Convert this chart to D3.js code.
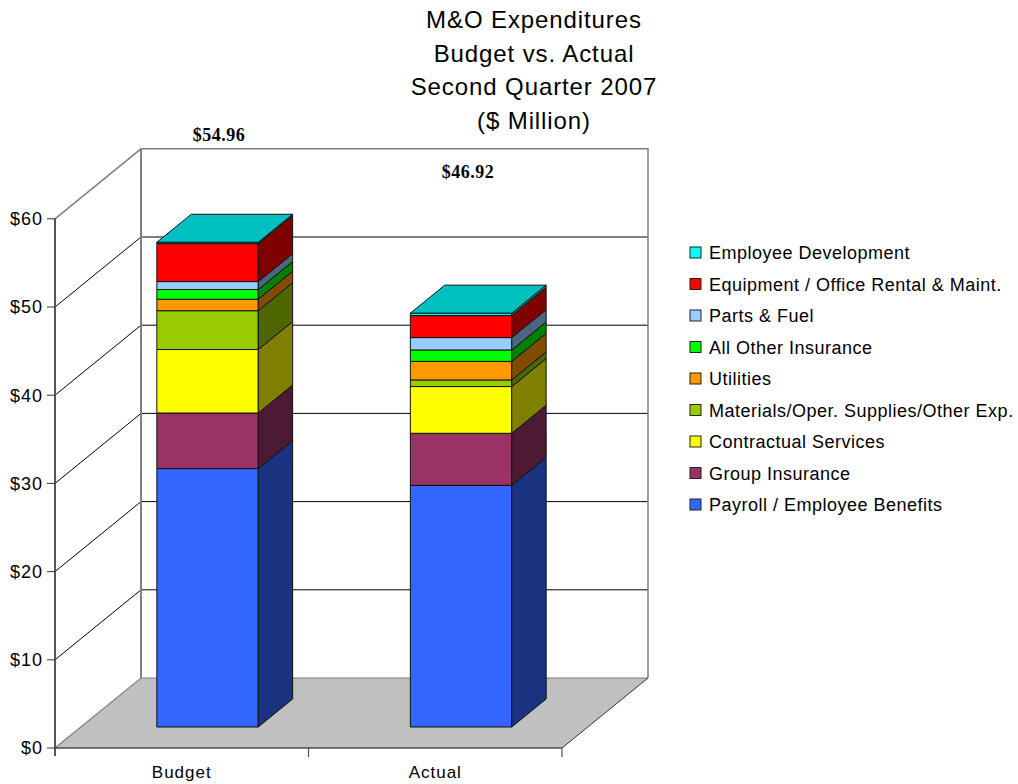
<!DOCTYPE html>
<html>
<head>
<meta charset="utf-8">
<script src="https://cdn.jsdelivr.net/npm/d3@7"></script>
<style>
  html, body { margin: 0; padding: 0; background: #fff; }
  svg { display: block; }
  text { font-family: "Liberation Sans", Arial, sans-serif; fill: #000; }
</style>
</head>
<body>
<svg id="chart" width="1018" height="784"></svg>
<script>
// ---- Data ----
const categories = ["Budget", "Actual"];
const seriesNames = [
  "Payroll / Employee Benefits",
  "Group Insurance",
  "Contractual Services",
  "Materials/Oper. Supplies/Other Exp.",
  "Utilities",
  "All Other Insurance",
  "Parts & Fuel",
  "Equipment / Office Rental & Maint.",
  "Employee Development"
];
const budgetValues = [29.3, 6.3, 7.2, 4.4, 1.3, 1.1, 0.9, 4.3, 0.16];
const actualValues = [27.4, 5.9, 5.3, 0.75, 2.1, 1.3, 1.4, 2.5, 0.27];
const totalLabels = ["$54.96", "$46.92"];
const yTicks = [0, 10, 20, 30, 40, 50, 60];
const yTickLabels = ["$0", "$10", "$20", "$30", "$40", "$50", "$60"];
const titleLines = ["M&O Expenditures", "Budget vs. Actual", "Second Quarter 2007", "($ Million)"];
const seriesColors = ["#3366FF", "#993366", "#FFFF00", "#99CC00", "#FF9900", "#00FF00", "#99CCFF", "#FF0000", "#00FFFF"];

// ---- Layout ----
const svg = d3.select("#chart");
const X0 = 55, X1 = 562;         // front plane extent
const Y0 = 748;                  // front $0
const DX = 86, DY = 70;          // depth offset of back wall
const y = d3.scaleLinear().domain([0, 60]).range([0, 529.2]); // height in px
const x = d3.scaleBand().domain(categories).range([X0, X1]).paddingInner(0.6).paddingOuter(0.3);

function P(px, v, d) { return [px + d * DX, Y0 - y(v) - d * DY]; }
const poly = pts => pts.map(p => p.join(",")).join(" ");
const shade = (c, k) => { const r = d3.rgb(c); return d3.rgb(r.r * k, r.g * k, r.b * k).formatHex(); };

// Floor
svg.append("polygon")
  .attr("points", poly([P(X0, 0, 0), P(X1, 0, 0), P(X1, 0, 1), P(X0, 0, 1)]))
  .attr("fill", "#C0C0C0").attr("stroke", "none");

// Back wall (white) & gridlines
svg.append("polygon")
  .attr("points", poly([P(X0, 0, 1), P(X1, 0, 1), P(X1, 60, 1), P(X0, 60, 1)]))
  .attr("fill", "#fff");

const g = svg.append("g");
yTicks.filter(v => v > 0 && v < 60).forEach(v => {
  g.append("polyline")
    .attr("points", poly([P(X0, v, 0), P(X0, v, 1), P(X1, v, 1)]))
    .attr("fill", "none").attr("stroke", "#000").attr("stroke-width", 1);
});
// wall borders (gray)
svg.append("polyline")
  .attr("points", poly([P(X0, 60, 0), P(X0, 60, 1), P(X1, 60, 1), P(X1, 0, 1)]))
  .attr("fill", "none").attr("stroke", "#808080").attr("stroke-width", 1.5);
svg.append("line")
  .attr("x1", P(X0, 0, 1)[0]).attr("y1", P(X0, 0, 1)[1])
  .attr("x2", P(X0, 60, 1)[0]).attr("y2", P(X0, 60, 1)[1])
  .attr("stroke", "#808080").attr("stroke-width", 2);
svg.append("polyline")
  .attr("points", poly([P(X0, 0, 0), P(X0, 0, 1), P(X1, 0, 1)]))
  .attr("fill", "none").attr("stroke", "#808080").attr("stroke-width", 1.2);
// floor front & right edges
svg.append("line")
  .attr("x1", X0).attr("y1", Y0).attr("x2", X1).attr("y2", Y0)
  .attr("stroke", "#000").attr("stroke-width", 1.2);
svg.append("line")
  .attr("x1", P(X1, 0, 0)[0]).attr("y1", P(X1, 0, 0)[1])
  .attr("x2", P(X1, 0, 1)[0]).attr("y2", P(X1, 0, 1)[1])
  .attr("stroke", "#333").attr("stroke-width", 1);

// Front value axis
svg.append("line")
  .attr("x1", X0).attr("y1", Y0 - y(60)).attr("x2", X0).attr("y2", Y0 + 8)
  .attr("stroke", "#555").attr("stroke-width", 2);
yTicks.forEach((v, i) => {
  const yy = Y0 - y(v);
  svg.append("line").attr("x1", X0 - 8).attr("x2", X0).attr("y1", yy).attr("y2", yy)
    .attr("stroke", "#333").attr("stroke-width", 1);
  svg.append("text").attr("x", X0 - 12).attr("y", yy).attr("dy", "0.36em")
    .attr("text-anchor", "end").attr("font-size", 18).attr("letter-spacing", 1).text(yTickLabels[i]);
});
// category ticks
[X0 + x.step(), X1].forEach(px => {
  svg.append("line").attr("x1", px).attr("x2", px).attr("y1", Y0).attr("y2", Y0 + 9)
    .attr("stroke", "#555").attr("stroke-width", 1.2);
});
categories.forEach(c => {
  svg.append("text").attr("x", x(c) + x.bandwidth() / 2).attr("y", Y0 + 30)
    .attr("text-anchor", "middle").attr("font-size", 17).attr("letter-spacing", 1).text(c);
});

// Bars
const dataByCat = [budgetValues, actualValues];
const dF = 0.3, dB = 0.7;
const bars = svg.append("g");
categories.forEach((c, ci) => {
  const vals = dataByCat[ci];
  const xl = x(c), xr = x(c) + x.bandwidth();
  let cum = 0;
  vals.forEach((v, si) => {
    const lo = cum, hi = cum + v; cum = hi;
    const col = seriesColors[si];
    bars.append("polygon")
      .attr("points", poly([P(xl, lo, dF), P(xr, lo, dF), P(xr, hi, dF), P(xl, hi, dF)]))
      .attr("fill", col).attr("stroke", "#111").attr("stroke-width", 1).attr("stroke-linejoin", "round");
    bars.append("polygon")
      .attr("points", poly([P(xr, lo, dF), P(xr, lo, dB), P(xr, hi, dB), P(xr, hi, dF)]))
      .attr("fill", shade(col, 0.5)).attr("stroke", "#111").attr("stroke-width", 1).attr("stroke-linejoin", "round");
    if (si === vals.length - 1) {
      bars.append("polygon")
        .attr("points", poly([P(xl, hi, dF), P(xr, hi, dF), P(xr, hi, dB), P(xl, hi, dB)]))
        .attr("fill", shade(col, 0.75)).attr("stroke", "#111").attr("stroke-width", 1).attr("stroke-linejoin", "round");
    }
  });
});

// Total labels
[[219, 141], [468, 178]].forEach((pos, i) => {
  svg.append("text").attr("x", pos[0]).attr("y", pos[1]).attr("text-anchor", "middle")
    .style("font-family", "'Liberation Serif', 'Times New Roman', serif")
    .attr("font-weight", "bold").attr("font-size", 18).attr("letter-spacing", 0.5).text(totalLabels[i]);
});

// Title
titleLines.forEach((t, i) => {
  svg.append("text").attr("x", 534).attr("y", 28 + i * 33.5).attr("text-anchor", "middle")
    .attr("font-size", 24).attr("letter-spacing", 0.9).text(t);
});

// Legend
const legend = svg.append("g");
const order = d3.range(seriesNames.length).reverse();
order.forEach((si, row) => {
  const yy = 253 + row * 31.5;
  legend.append("rect").attr("x", 690).attr("y", yy - 6).attr("width", 11).attr("height", 11)
    .attr("fill", seriesColors[si]).attr("stroke", "#222").attr("stroke-width", 1);
  legend.append("text").attr("x", 709).attr("y", yy).attr("dy", "0.36em")
    .attr("font-size", 18).attr("letter-spacing", 0.5).text(seriesNames[si]);
});
</script>
</body>
</html>
